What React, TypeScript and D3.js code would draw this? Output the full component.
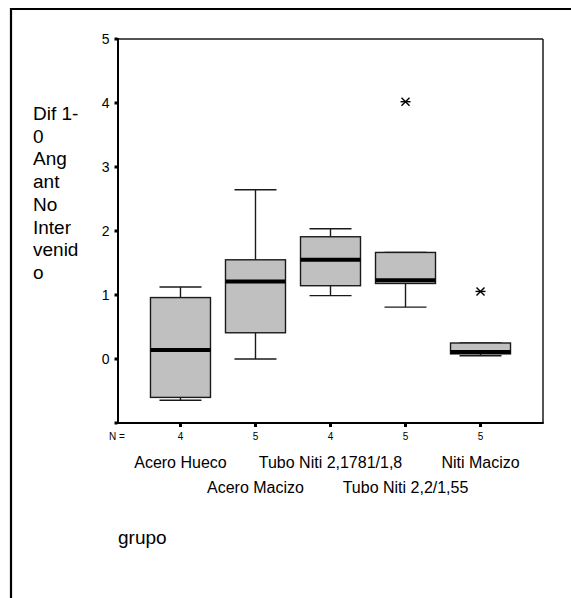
import React from "react";
import * as d3 from "d3";

const categories = ["Acero Hueco", "Acero Macizo", "Tubo Niti 2,1781/1,8", "Tubo Niti 2,2/1,55", "Niti Macizo"];
const nValues = [4, 5, 4, 5, 5];
const whiskerLow = [-0.645, 0.0, 0.99, 0.81, 0.05];
const q1 = [-0.6, 0.41, 1.145, 1.18, 0.08];
const median = [0.14, 1.21, 1.55, 1.23, 0.11];
const q3 = [0.96, 1.55, 1.91, 1.665, 0.25];
const whiskerHigh = [1.125, 2.645, 2.035, 1.665, 0.25];
const outlierGroups = [3, 4];
const outlierValues = [4.02, 1.056];
const yTicks = [-1, 0, 1, 2, 3, 4, 5];
const yTickLabels = ["", "0", "1", "2", "3", "4", "5"];
const yTitleLines = ["Dif 1-", "0", "Ang", "ant", "No", "Inter", "venid", "o"];
const xTitle = "grupo";

export default function App() {
  const W = 571, H = 598;
  const left = 118, right = 543, top = 39, bottom = 423;
  const y = d3.scaleLinear().domain([-1, 5]).range([bottom, top]);
  const x = d3.scalePoint<string>().domain(categories).range([left, right]).padding(0.833);
  const boxW = 60, capW = 42;
  const font = "Arial, 'Liberation Sans', Helvetica, sans-serif";
  const stroke = "#1a1a1a";

  const star = (cx: number, cy: number, k: number) => (
    <g key={"o" + k} stroke="#000" strokeWidth={1.4}>
      <line x1={cx - 5} y1={cy} x2={cx + 5} y2={cy} />
      <line x1={cx - 4} y1={cy - 4} x2={cx + 4} y2={cy + 4} />
      <line x1={cx - 4} y1={cy + 4} x2={cx + 4} y2={cy - 4} />
    </g>
  );

  return (
    <svg width={W} height={H} style={{ position: "absolute", left: 0, top: 0, background: "#fff" }} fontFamily={font}>
      {/* outer frame */}
      <line x1={11} y1={9} x2={W} y2={9} stroke="#000" strokeWidth={2.2} />
      <line x1={11} y1={8} x2={11} y2={H} stroke="#000" strokeWidth={2.2} />

      {/* plot frame */}
      <line x1={left} y1={top} x2={right} y2={top} stroke={stroke} strokeWidth={1.5} />
      <line x1={right} y1={top} x2={right} y2={bottom} stroke={stroke} strokeWidth={1.5} />
      <line x1={left} y1={top - 1} x2={left} y2={bottom + 1} stroke="#000" strokeWidth={2} />
      <line x1={left - 1} y1={bottom} x2={right + 0.75} y2={bottom} stroke="#000" strokeWidth={2} />

      {/* y ticks */}
      {yTicks.map((t, i) => (
        <g key={"yt" + i}>
          <rect x={left - 3.5} y={y(t) - 1.5} width={3} height={3} fill="#000" />
          {yTickLabels[i] && (
            <text x={109.5} y={y(t) + 5} fontSize={14} textAnchor="end" fill="#000">
              {yTickLabels[i]}
            </text>
          )}
        </g>
      ))}

      {/* x ticks + N */}
      <text x={109} y={440} fontSize={10} fill="#000">N =</text>
      {categories.map((c, i) => (
        <g key={"xt" + i}>
          <rect x={(x(c) as number) - 1.5} y={bottom + 1} width={3} height={3} fill="#000" />
          <text x={x(c) as number} y={440} fontSize={10} textAnchor="middle" fill="#000">
            {nValues[i]}
          </text>
          <text x={x(c) as number} y={i % 2 === 0 ? 468 : 493} fontSize={16} textAnchor="middle" fill="#000">
            {c}
          </text>
        </g>
      ))}

      {/* boxes */}
      {categories.map((c, i) => {
        const cx = x(c) as number;
        return (
          <g key={"b" + i} stroke={stroke} strokeWidth={1.4}>
            <line x1={cx} y1={y(whiskerHigh[i])} x2={cx} y2={y(q3[i])} />
            <line x1={cx} y1={y(whiskerLow[i])} x2={cx} y2={y(q1[i])} />
            <line x1={cx - capW / 2} y1={y(whiskerHigh[i])} x2={cx + capW / 2} y2={y(whiskerHigh[i])} />
            <line x1={cx - capW / 2} y1={y(whiskerLow[i])} x2={cx + capW / 2} y2={y(whiskerLow[i])} />
            <rect x={cx - boxW / 2} y={y(q3[i])} width={boxW} height={y(q1[i]) - y(q3[i])} fill="#c0c0c0" />
            <line x1={cx - boxW / 2} y1={y(median[i])} x2={cx + boxW / 2} y2={y(median[i])} stroke="#000" strokeWidth={4} />
          </g>
        );
      })}

      {/* outliers */}
      {outlierGroups.map((g, k) => star(x(categories[g]) as number, y(outlierValues[k]), k))}

      {/* y title */}
      {yTitleLines.map((l, i) => (
        <text key={"yl" + i} x={33} y={120 + i * 22.7} fontSize={19} fill="#000">
          {l}
        </text>
      ))}

      {/* x title */}
      <text x={118} y={544} fontSize={19} fill="#000">{xTitle}</text>
    </svg>
  );
}
